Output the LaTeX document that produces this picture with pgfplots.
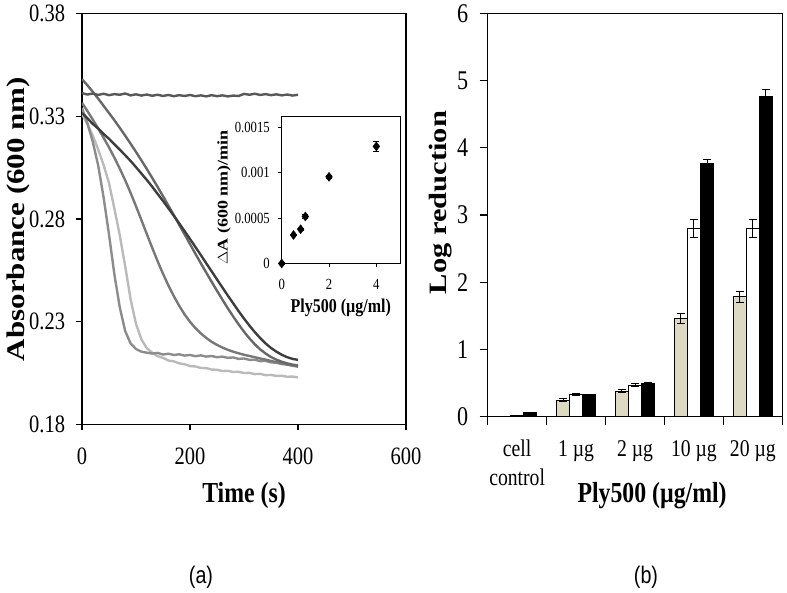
\documentclass[border=0pt]{standalone}
\usepackage{fontspec}
\setmainfont{Liberation Serif}[FakeStretch=0.82]
\newfontfamily\rotserif{Liberation Serif}
\newfontfamily\capsans{Liberation Sans}[FakeStretch=0.82]
\usepackage{pgfplots}
\pgfplotsset{compat=1.18}

\definecolor{cA}{RGB}{88,88,88}
\definecolor{cB}{RGB}{62,62,62}
\definecolor{cC}{RGB}{104,104,104}
\definecolor{cD}{RGB}{120,120,120}
\definecolor{cF}{RGB}{140,140,140}
\definecolor{cE}{RGB}{186,186,186}
\definecolor{beige}{RGB}{221,217,195}

\begin{document}
\begin{tikzpicture}
\useasboundingbox (0,0) rectangle (787pt,593pt);

% (a) absorbance at 600 nm over time
\begin{axis}[
  at={(82pt,168.3pt)}, anchor=south west,
  scale only axis, width=324pt, height=411.4pt,
  xmin=0, xmax=600, ymin=0.18, ymax=0.38,
  xtick={0,200,400,600}, xticklabels={0,200,400,600},
  ytick={0.18,0.23,0.28,0.33,0.38}, yticklabels={0.18,0.23,0.28,0.33,0.38},
  tick pos=left, tick align=outside, major tick length=5.5pt,
  axis line style={line width=1.1pt}, tick style={line width=1.1pt, black},
  ticklabel style={font=\fontsize{25}{25}\selectfont, inner sep=0pt},
  xticklabel style={anchor=base, yshift=-34.8pt},
  yticklabel style={anchor=east, xshift=-11.2pt},
  xlabel={Time (s)},
  xlabel style={font=\fontsize{29}{29}\selectfont\bfseries, inner sep=0pt,
    at={(axis description cs:0.5,-0.1903)}, anchor=base},
  ylabel={Absorbance (600 nm)},
  ylabel style={font=\rotserif\bfseries\fontsize{31}{31}\selectfont, inner sep=0pt,
    at={(axis description cs:-0.176,0.5)}, anchor=base, yscale=0.82},
  every axis plot/.append style={line width=2.4pt, no markers},
]
\addplot[cE] coordinates {
(0,0.3310) (10,0.3262) (20,0.3205) (30,0.3138) (40,0.3062) (50,0.2975)
(60,0.2850) (70,0.2720) (80,0.2570) (90,0.2410) (100,0.2290) (110,0.2215)
(120,0.2172) (130,0.2150) (140,0.2133) (150,0.2125) (160,0.2112) (170,0.2108)
(180,0.2098) (190,0.2094) (200,0.2085) (210,0.2083) (220,0.2076) (230,0.2075)
(240,0.2068) (250,0.2067) (260,0.2061) (270,0.2062) (280,0.2056) (290,0.2057)
(300,0.2051) (310,0.2052) (320,0.2046) (330,0.2047) (340,0.2041) (350,0.2042)
(360,0.2037) (370,0.2038) (380,0.2033) (390,0.2034) (400,0.2030)};
\addplot[cF] coordinates {
(0,0.3340) (10,0.3265) (20,0.3175) (30,0.3060) (40,0.2905) (50,0.2725)
(60,0.2530) (70,0.2370) (80,0.2255) (90,0.2195) (100,0.2168) (110,0.2155)
(120,0.2150) (130,0.2146) (140,0.2149) (150,0.2141) (160,0.2145) (170,0.2139)
(180,0.2142) (190,0.2136) (200,0.2139) (210,0.2133) (220,0.2137) (230,0.2131)
(240,0.2134) (250,0.2128) (260,0.2131) (270,0.2125) (280,0.2127) (290,0.2120)
(300,0.2122) (310,0.2115) (320,0.2116) (330,0.2109) (340,0.2110) (350,0.2103)
(360,0.2101) (370,0.2095) (380,0.2093) (390,0.2088) (400,0.2086)};
\addplot[cD] coordinates {
(0,0.3365) (10,0.3325) (20,0.3283) (30,0.3240) (40,0.3195) (50,0.3148)
(60,0.3098) (70,0.3045) (80,0.2988) (90,0.2927) (100,0.2862) (110,0.2795)
(120,0.2727) (130,0.2660) (140,0.2595) (150,0.2534) (160,0.2477) (170,0.2425)
(180,0.2378) (190,0.2336) (200,0.2300) (210,0.2270) (220,0.2244) (230,0.2222)
(240,0.2203) (250,0.2188) (260,0.2175) (270,0.2164) (280,0.2155) (290,0.2147)
(300,0.2140) (310,0.2134) (320,0.2128) (330,0.2122) (340,0.2116) (350,0.2110)
(360,0.2104) (370,0.2098) (380,0.2092) (390,0.2087) (400,0.2082)};
\addplot[cC] coordinates {
(0,0.3480) (10,0.3450) (20,0.3418) (30,0.3385) (40,0.3350) (50,0.3315)
(60,0.3280) (70,0.3243) (80,0.3205) (90,0.3166) (100,0.3126) (110,0.3085)
(120,0.3043) (130,0.3000) (140,0.2956) (150,0.2911) (160,0.2865) (170,0.2819)
(180,0.2772) (190,0.2725) (200,0.2678) (210,0.2631) (220,0.2585) (230,0.2540)
(240,0.2495) (250,0.2451) (260,0.2408) (270,0.2366) (280,0.2326) (290,0.2288)
(300,0.2252) (310,0.2220) (320,0.2191) (330,0.2166) (340,0.2146) (350,0.2129)
(360,0.2116) (370,0.2106) (380,0.2098) (390,0.2092) (400,0.2088)};
\addplot[cB] coordinates {
(0,0.3315) (10,0.3290) (20,0.3262) (30,0.3240) (40,0.3213) (50,0.3190)
(60,0.3163) (70,0.3137) (80,0.3110) (90,0.3082) (100,0.3052) (110,0.3021)
(120,0.2990) (130,0.2957) (140,0.2922) (150,0.2888) (160,0.2852) (170,0.2816)
(180,0.2779) (190,0.2741) (200,0.2703) (210,0.2664) (220,0.2625) (230,0.2585)
(240,0.2546) (250,0.2506) (260,0.2467) (270,0.2428) (280,0.2390) (290,0.2352)
(300,0.2316) (310,0.2282) (320,0.2250) (330,0.2221) (340,0.2195) (350,0.2173)
(360,0.2155) (370,0.2140) (380,0.2128) (390,0.2120) (400,0.2115)};
\addplot[cA] coordinates {
(0,0.3412) (10,0.3405) (20,0.3410) (30,0.3403) (40,0.3409) (50,0.3402)
(60,0.3407) (70,0.3404) (80,0.3410) (90,0.3401) (100,0.3406) (110,0.3400)
(120,0.3405) (130,0.3399) (140,0.3404) (150,0.3398) (160,0.3403) (170,0.3397)
(180,0.3402) (190,0.3398) (200,0.3403) (210,0.3397) (220,0.3401) (230,0.3396)
(240,0.3402) (250,0.3397) (260,0.3401) (270,0.3396) (280,0.3400) (290,0.3398)
(300,0.3408) (310,0.3404) (320,0.3409) (330,0.3403) (340,0.3407) (350,0.3402)
(360,0.3406) (370,0.3401) (380,0.3405) (390,0.3400) (400,0.3404)};
\end{axis}

% inset: lysis rate against enzyme concentration
\begin{axis}[
  at={(281.7pt,329.5pt)}, anchor=south west,
  scale only axis, width=118.3pt, height=147pt,
  xmin=0, xmax=5, ymin=0, ymax=0.00162,
  xtick={0,2,4}, xticklabels={0,2,4},
  ytick={0,0.0005,0.001,0.0015}, yticklabels={0,0.0005,0.001,0.0015},
  scaled y ticks=false,
  tick pos=left, tick align=outside, major tick length=3.5pt,
  axis line style={line width=0.9pt}, tick style={line width=0.9pt, black},
  axis background/.style={fill=white},
  clip=false,
  ticklabel style={font=\fontsize{15.5}{15.5}\selectfont, inner sep=0pt},
  xticklabel style={anchor=base, yshift=-23pt},
  yticklabel style={anchor=east, xshift=-8.2pt},
  xlabel={Ply500 (µg/ml)},
  xlabel style={font=\fontsize{19.5}{19.5}\selectfont\bfseries, inner sep=0pt,
    at={(axis description cs:0.5,-0.33)}, anchor=base},
  ylabel={$\Delta$A (600 nm)/min},
  ylabel style={font=\rotserif\bfseries\fontsize{18}{18}\selectfont, inner sep=0pt,
    at={(axis description cs:-0.458,0.449)}, anchor=base, yscale=0.82},
]
\addplot[black, only marks, mark=diamond*, mark size=4.5pt,
  error bars/.cd, y dir=both, y explicit,
  error bar style={line width=0.9pt},
  error mark options={rotate=90, mark size=3pt, line width=0.9pt}]
coordinates {
(0,0) +- (0,0.00001)
(0.5,0.000314) +- (0,0.00001)
(0.8,0.000378) +- (0,0.00001)
(1,0.000518) +- (0,0.00002)
(2,0.000955) +- (0,0.00002)
(4,0.00129) +- (0,0.00006)
};
\end{axis}

% (b) log reduction by dose
\begin{axis}[
  at={(487.7pt,176.3pt)}, anchor=south west,
  scale only axis, width=294.6pt, height=403.4pt,
  xmin=-0.5, xmax=4.5, ymin=0, ymax=6,
  ybar, bar width=0.215,
  xtick={-0.5,0.5,1.5,2.5,3.5,4.5},
  x tick label as interval,
  xticklabels={{\begin{tabular}[t]{@{}c@{}}cell\\control\end{tabular}},1 µg,2 µg,10 µg,20 µg},
  ytick={0,1,2,3,4,5,6}, yticklabels={0,1,2,3,4,5,6},
  tick pos=left, tick align=outside, major tick length=8pt,
  axis line style={line width=1.1pt}, tick style={line width=1.1pt, black},
  xticklabel style={font=\fontsize{24}{29}\selectfont, inner sep=0pt,
    anchor=base, yshift=-32.3pt},
  yticklabel style={font=\fontsize{27}{27}\selectfont, inner sep=0pt,
    anchor=east, xshift=-11.4pt},
  xlabel={Ply500 (µg/ml)},
  xlabel style={font=\fontsize{29}{29}\selectfont\bfseries, inner sep=0pt,
    at={(axis description cs:0.558,-0.2139)}, anchor=base},
  ylabel={Log reduction},
  ylabel style={font=\rotserif\bfseries\fontsize{30.5}{30.5}\selectfont, inner sep=0pt,
    at={(axis description cs:-0.1415,0.531)}, anchor=base, yscale=0.82},
  error bars/error bar style={line width=0.9pt, black},
  error bars/error mark options={rotate=90, mark size=4pt, line width=0.9pt, black},
]
\addplot[fill=beige, draw=black, line width=0.9pt, bar shift=-0.222,
  error bars/.cd, y dir=both, y explicit]
coordinates {
(0,0) +- (0,0)
(1,0.248) +- (0,0.02)
(2,0.38) +- (0,0.02)
(3,1.46) +- (0,0.07)
(4,1.785) +- (0,0.08)
};
\addplot[fill=white, draw=black, line width=0.9pt, bar shift=0,
  error bars/.cd, y dir=both, y explicit]
coordinates {
(0,0.015) +- (0,0)
(1,0.33) +- (0,0.02)
(2,0.47) +- (0,0.02)
(3,2.80) +- (0,0.14)
(4,2.80) +- (0,0.14)
};
\addplot[fill=black, draw=black, line width=0.9pt, bar shift=0.222,
  error bars/.cd, y dir=both, y explicit]
coordinates {
(0,0.065) +- (0,0)
(1,0.33) +- (0,0.005)
(2,0.495) +- (0,0.01)
(3,3.76) +- (0,0.07)
(4,4.76) +- (0,0.10)
};
\end{axis}

\node[font=\capsans\fontsize{24}{24}\selectfont] at (201pt,16pt) {(a)};
\node[font=\capsans\fontsize{24}{24}\selectfont] at (646pt,16pt) {(b)};
\end{tikzpicture}
\end{document}
